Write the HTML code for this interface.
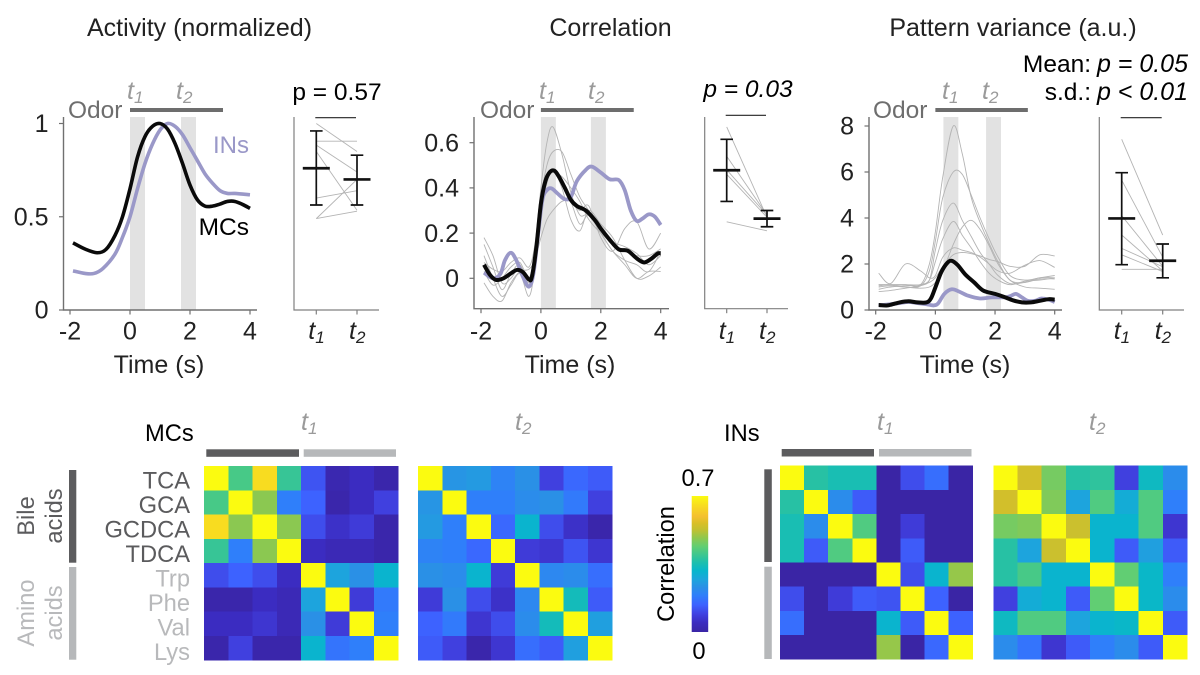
<!DOCTYPE html>
<html lang="en">
<head>
<meta charset="utf-8">
<title>Odor response figure</title>
<style>
html,body{margin:0;padding:0;background:#fff;}
svg{display:block;font-family:"Liberation Sans",sans-serif;}
text{fill:#222;font-size:25px;}
.hl text,.hs{font-size:23.7px;}
.hl text.big{font-size:25px;}
.it{font-style:italic;}
.g{fill:#6e6e6e;font-size:24.5px;}
.tl{fill:#9a9a9a;}
.sub{font-size:17px;}
.dk{fill:#5b5b5d;}
.lt{fill:#b8b9bb;}
.m{text-anchor:middle;}
.e{text-anchor:end;}
</style>
</head>
<body>
<svg id="chart" width="1200" height="675" viewBox="0 0 1200 675" xmlns="http://www.w3.org/2000/svg">
<defs><linearGradient id="cbar-grad" x1="0" y1="1" x2="0" y2="0"></linearGradient></defs>
<g id="layer"></g>
<g>
<text x="199.5" y="36" class="m">Activity (normalized)</text>
<text x="610.5" y="36" class="m">Correlation</text>
<text x="1013" y="36" class="m">Pattern variance (a.u.)</text>
</g>
<g>
<text x="68" y="118" class="g">Odor</text>
<text x="480" y="118" class="g">Odor</text>
<text x="873" y="118" class="g">Odor</text>
<text x="127" y="99" class="tl it">t<tspan class="sub" dy="4">1</tspan></text>
<text x="176" y="99" class="tl it">t<tspan class="sub" dy="4">2</tspan></text>
<text x="539" y="99" class="tl it">t<tspan class="sub" dy="4">1</tspan></text>
<text x="588" y="99" class="tl it">t<tspan class="sub" dy="4">2</tspan></text>
<text x="942" y="99" class="tl it">t<tspan class="sub" dy="4">1</tspan></text>
<text x="982" y="99" class="tl it">t<tspan class="sub" dy="4">2</tspan></text>
<text x="249" y="153" class="e" style="fill:#9a98c8;font-size:24px">INs</text>
<text x="249" y="235" class="e" style="fill:#000;font-size:24.5px">MCs</text>
<text x="337" y="100" class="m" style="fill:#000;font-size:24.5px">p = 0.57</text>
<text x="748" y="97" class="m it" style="fill:#000;font-size:24.5px">p = 0.03</text>
<text x="1091" y="72" class="e" style="fill:#000;font-size:24.5px">Mean:</text>
<text x="1188" y="72" class="e it" style="fill:#000">p = 0.05</text>
<text x="1091" y="100" class="e" style="fill:#000;font-size:24.5px">s.d.:</text>
<text x="1188" y="100" class="e it" style="fill:#000">p &lt; 0.01</text>
<text x="159" y="373" class="m">Time (s)</text>
<text x="570" y="373" class="m">Time (s)</text>
<text x="965" y="373" class="m">Time (s)</text>
</g>
<g class="hl">
<text x="145" y="441" style="fill:#000">MCs</text>
<text x="724" y="441" style="fill:#000">INs</text>
<text x="301" y="430" class="tl it big">t<tspan class="sub" dy="4">1</tspan></text>
<text x="515" y="430" class="tl it big">t<tspan class="sub" dy="4">2</tspan></text>
<text x="877" y="430" class="tl it big">t<tspan class="sub" dy="4">1</tspan></text>
<text x="1089" y="430" class="tl it big">t<tspan class="sub" dy="4">2</tspan></text>
<text transform="translate(34,516) rotate(-90)" class="m dk">Bile</text>
<text transform="translate(62,516) rotate(-90)" class="m dk">acids</text>
<text transform="translate(34,613) rotate(-90)" class="m lt">Amino</text>
<text transform="translate(62,613) rotate(-90)" class="m lt">acids</text>
<text transform="translate(674,564) rotate(-90)" class="m" style="fill:#000">Correlation</text>
<text x="698" y="486" class="m" style="fill:#000">0.7</text>
<text x="699" y="659" class="m" style="fill:#000">0</text>
</g>
</svg>
<script>
// ---------- Activity panel data ----------
const activityMCsTime = [-1.9,-1.5,-1.1,-0.8,-0.5,-0.25,0,0.25,0.5,0.75,1,1.25,1.5,1.75,2,2.25,2.5,2.75,3,3.25,3.5,3.75,4];
const activityMCs = [0.36,0.327,0.307,0.325,0.40,0.50,0.65,0.82,0.93,0.985,1,0.97,0.893,0.786,0.67,0.59,0.557,0.557,0.568,0.582,0.582,0.566,0.545];
const activityINsTime = [-1.9,-1.5,-1.2,-0.9,-0.5,-0.25,0,0.25,0.5,0.75,1,1.25,1.5,1.75,2,2.25,2.5,2.75,3,3.25,3.5,4];
const activityINs = [0.21,0.196,0.196,0.223,0.30,0.39,0.50,0.65,0.786,0.89,0.965,1,0.985,0.94,0.87,0.80,0.73,0.68,0.64,0.625,0.625,0.618];
const activityPairsT1 = [1.0,0.905,0.884,0.85,0.60,0.49,0.49];
const activityPairsT2 = [0.85,0.905,0.74,0.535,0.64,0.53,0.70];
const activityMean = [0.76,0.70];
const activityUpper = [0.96,0.83];
const activityLower = [0.563,0.563];

// ---------- Correlation panel data ----------
const corrMCsTime = [-1.9,-1.7,-1.5,-1.25,-1,-0.8,-0.6,-0.4,-0.3,-0.15,0,0.15,0.3,0.45,0.6,0.8,1,1.2,1.5,1.8,2,2.3,2.6,2.9,3.2,3.45,3.7,3.9,4];
const corrMCs = [0.06,0.015,-0.007,0,0.022,0.037,0.027,-0.005,0.007,0.14,0.33,0.43,0.47,0.476,0.45,0.40,0.347,0.32,0.30,0.258,0.22,0.17,0.128,0.122,0.088,0.07,0.088,0.11,0.11];
const corrINsTime = [-1.9,-1.6,-1.35,-1.2,-1,-0.8,-0.6,-0.4,-0.25,-0.1,0.05,0.2,0.35,0.55,0.8,1,1.2,1.5,1.7,2,2.3,2.6,2.8,3,3.2,3.4,3.6,3.8,4];
const corrINs = [0.025,0,0.02,0.08,0.113,0.074,0.007,-0.037,0.02,0.185,0.347,0.39,0.398,0.376,0.35,0.36,0.43,0.48,0.494,0.468,0.438,0.435,0.39,0.30,0.254,0.265,0.283,0.273,0.236];
const corrTraceTime = [-1.9,-1.6,-1.3,-1,-0.7,-0.4,-0.2,0,0.2,0.4,0.7,1,1.3,1.6,2,2.4,2.8,3.2,3.6,4];
const corrTrace1 = [0.18,0.10,-0.02,0,0.05,0,0.12,0.40,0.60,0.67,0.55,0.38,0.28,0.28,0.20,0.12,0.08,0.06,0.03,0.12];
const corrTrace2 = [0.15,0.05,-0.05,0.02,0.06,-0.02,0.10,0.35,0.50,0.56,0.56,0.46,0.36,0.30,0.22,0.15,0.12,0.10,0.10,0.13];
const corrTrace3 = [0.10,0,-0.08,-0.03,0.02,-0.08,0.05,0.30,0.42,0.48,0.42,0.34,0.24,0.28,0.20,0.12,0.06,0,0.03,0.03];
const corrTrace4 = [-0.02,-0.08,-0.10,-0.02,0.03,0.04,0.08,0.18,0.26,0.30,0.34,0.34,0.30,0.32,0.18,0.12,0.22,0.25,0.13,0.20];
const corrTrace5 = [0.03,-0.03,0,0.05,0.07,0,0.12,0.34,0.44,0.48,0.40,0.26,0.21,0.30,0.24,0.18,0.08,0,0.01,0.05];
const corrTrace6 = [0.07,0.04,0.03,0.07,0.09,0.05,0.15,0.38,0.46,0.47,0.45,0.40,0.34,0.26,0.20,0.16,0.14,0.11,0.06,0.10];
const corrPairsT1 = [0.67,0.54,0.48,0.46,0.25];
const corrPairsT2 = [0.27,0.28,0.28,0.27,0.21];
const corrMean = [0.478,0.264];
const corrUpper = [0.615,0.30];
const corrLower = [0.34,0.228];

// ---------- Pattern variance panel data ----------
const varMCsTime = [-1.9,-1.6,-1.2,-0.9,-0.6,-0.3,-0.15,0,0.2,0.4,0.55,0.75,1,1.3,1.6,2,2.3,2.6,2.9,3.2,3.5,3.8,4];
const varMCs = [0.22,0.2,0.33,0.38,0.33,0.33,0.5,0.98,1.65,2.05,2.14,1.95,1.55,1.2,0.85,0.7,0.57,0.42,0.33,0.33,0.4,0.47,0.45];
const varINsTime = [-1.9,-1.5,-1.2,-0.9,-0.6,-0.3,-0.05,0.1,0.3,0.55,0.8,1.1,1.5,1.9,2.3,2.5,2.7,2.9,3.1,3.35,3.55,3.8,4];
const varINs = [0.2,0.25,0.3,0.35,0.3,0.25,0.2,0.3,0.7,0.9,0.8,0.62,0.5,0.55,0.55,0.6,0.7,0.55,0.4,0.4,0.5,0.45,0.35];
const varTraceTime = [-1.9,-1.5,-1,-0.5,-0.2,0,0.25,0.6,0.9,1.2,1.5,1.8,2.1,2.5,3,3.5,4];
const varTrace1 = [1.1,1.1,1.1,1.1,2.0,3.4,5.8,8.0,6.8,4.9,3.8,2.9,2.1,1.3,1.2,1.35,1.35];
const varTrace2 = [1.0,1.05,1.0,1.05,1.7,3.0,4.9,6.0,5.9,5.0,4.0,3.1,2.3,1.5,1.3,1.4,1.5];
const varTrace3 = [0.9,1.0,1.05,1.1,1.3,2.6,3.9,4.65,3.9,3.2,2.5,2.0,1.5,1.15,1.2,1.4,1.4];
const varTrace4 = [1.1,1.1,1.1,1.1,1.3,2.1,3.1,3.85,3.25,2.7,2.1,1.6,1.3,1.1,1.25,1.3,1.4];
const varTrace5 = [1.05,1.1,1.0,0.95,1.0,1.2,1.7,2.85,3.6,3.9,3.5,2.8,2.0,1.3,1.0,0.95,0.9];
const varTrace6 = [1.6,1.15,2.0,1.7,1.4,1.5,2.3,2.7,2.6,2.5,2.3,2.0,1.7,1.6,1.95,2.15,1.85];
const varTrace7 = [0.8,0.85,0.95,1.05,1.2,1.4,1.9,2.4,2.5,2.45,2.35,2.2,2.1,1.9,1.9,2.4,2.35];
const varPairsT1 = [7.42,5.65,4.1,3.26,2.68,2.4,1.77];
const varPairsT2 = [3.26,2.3,1.9,1.7,1.88,1.67,1.77];
const varMean = [3.98,2.14];
const varUpper = [5.97,2.87];
const varLower = [1.97,1.4];

// ---------- Tick labels ----------
const timeTicks = [-2,0,2,4];
const activityTicks = [0,0.5,1];
const correlationTicks = [0,0.2,0.4,0.6];
const varianceTicks = [0,2,4,6,8];
const sideCategories = ['1','2'];
const odorWindow = [0,3.1];

// ---------- Heatmap data ----------
const odorNames = ['TCA','GCA','GCDCA','TDCA','Trp','Phe','Val','Lys'];
const mcsT1 = [
[0.70,0.41,0.65,0.39,0.12,0.02,0.05,0.01],
[0.41,0.70,0.48,0.19,0.14,0.01,0.05,0.09],
[0.65,0.48,0.70,0.48,0.11,0.06,0.08,0.01],
[0.39,0.19,0.48,0.70,0.05,0.03,0.03,0.01],
[0.11,0.14,0.11,0.05,0.70,0.27,0.23,0.31],
[0.01,0.01,0.05,0.03,0.27,0.70,0.08,0.18],
[0.05,0.05,0.07,0.03,0.23,0.08,0.70,0.19],
[0.01,0.09,0.01,0.01,0.31,0.17,0.19,0.70]];
const mcsT2 = [
[0.70,0.24,0.25,0.20,0.23,0.09,0.15,0.13],
[0.24,0.70,0.19,0.19,0.22,0.23,0.18,0.09],
[0.25,0.19,0.70,0.15,0.31,0.11,0.06,0.01],
[0.20,0.19,0.15,0.70,0.08,0.07,0.12,0.07],
[0.23,0.22,0.31,0.08,0.70,0.21,0.22,0.16],
[0.08,0.23,0.11,0.06,0.21,0.70,0.34,0.13],
[0.14,0.18,0.07,0.11,0.22,0.34,0.70,0.26],
[0.13,0.09,0.01,0.07,0.16,0.13,0.26,0.70]];
const insT1 = [
[0.70,0.37,0.35,0.35,0.00,0.11,0.16,0.00],
[0.37,0.70,0.22,0.13,0.00,0.00,0.00,0.00],
[0.35,0.22,0.70,0.42,0.00,0.08,0.00,0.00],
[0.35,0.13,0.42,0.70,0.00,0.13,0.00,0.00],
[0.00,0.00,0.00,0.00,0.70,0.11,0.31,0.49],
[0.11,0.00,0.08,0.13,0.12,0.70,0.14,0.00],
[0.16,0.00,0.00,0.00,0.31,0.13,0.70,0.14],
[0.00,0.00,0.00,0.00,0.49,0.00,0.15,0.70]];
const insT2 = [
[0.70,0.55,0.46,0.37,0.38,0.09,0.33,0.22],
[0.55,0.70,0.47,0.27,0.42,0.29,0.42,0.19],
[0.46,0.47,0.70,0.54,0.31,0.31,0.42,0.07],
[0.37,0.27,0.54,0.70,0.31,0.13,0.26,0.13],
[0.37,0.41,0.31,0.31,0.70,0.44,0.32,0.19],
[0.09,0.29,0.31,0.13,0.44,0.70,0.32,0.22],
[0.33,0.42,0.42,0.27,0.31,0.32,0.70,0.13],
[0.22,0.17,0.07,0.13,0.19,0.22,0.13,0.70]];
const colorDomainMax = 0.7;
const colorStops = [
[0,'#3a25a5'],[0.07,'#3b2cc0'],[0.13,'#4040e0'],[0.2,'#3d62ff'],[0.27,'#2f7ffa'],[0.33,'#2a90e6'],
[0.39,'#1ca6dc'],[0.45,'#08b6cc'],[0.51,'#1cbfae'],[0.57,'#3ec78f'],[0.63,'#62ce72'],[0.69,'#8ec84f'],
[0.75,'#c0c032'],[0.8,'#d9bf28'],[0.85,'#f4c030'],[0.93,'#f8dc20'],[1,'#fbfb10']];

// ---------- Helpers ----------
const NS = 'http://www.w3.org/2000/svg';
const root = document.getElementById('layer');
function mk(tag, attrs, parent) {
  const n = document.createElementNS(NS, tag);
  for (const k in attrs) n.setAttribute(k, attrs[k]);
  (parent || root).appendChild(n);
  return n;
}
function linear(d0, d1, r0, r1) {
  return function (v) { return r0 + (v - d0) * (r1 - r0) / (d1 - d0); };
}
function smoothPath(xs, ys, sx, sy) {
  const p = xs.map(function (x, i) { return [sx(x), sy(ys[i])]; });
  let d = 'M' + p[0][0].toFixed(2) + ' ' + p[0][1].toFixed(2);
  for (let i = 0; i < p.length - 1; i++) {
    const a = p[Math.max(i - 1, 0)], b = p[i], c = p[i + 1], e = p[Math.min(i + 2, p.length - 1)];
    const c1x = b[0] + (c[0] - a[0]) / 6, c1y = b[1] + (c[1] - a[1]) / 6;
    const c2x = c[0] - (e[0] - b[0]) / 6, c2y = c[1] - (e[1] - b[1]) / 6;
    d += 'C' + c1x.toFixed(2) + ' ' + c1y.toFixed(2) + ' ' + c2x.toFixed(2) + ' ' + c2y.toFixed(2) + ' ' + c[0].toFixed(2) + ' ' + c[1].toFixed(2);
  }
  return d;
}
function cmap(v) {
  const f = Math.max(0, Math.min(1, v / colorDomainMax));
  for (let i = 0; i < colorStops.length - 1; i++) {
    const a = colorStops[i], b = colorStops[i + 1];
    if (f <= b[0]) {
      const w = (f - a[0]) / (b[0] - a[0]);
      const ca = [1, 3, 5].map(function (j) { return parseInt(a[1].substr(j, 2), 16); });
      const cb = [1, 3, 5].map(function (j) { return parseInt(b[1].substr(j, 2), 16); });
      return 'rgb(' + ca.map(function (c, j) { return Math.round(c + (cb[j] - c) * w); }).join(',') + ')';
    }
  }
  return colorStops[colorStops.length - 1][1];
}

function drawTimePanel(cfg) {
  const g = mk('g', {});
  
  
  const sx = linear(-2, 4, cfg.xNeg2, cfg.x4);
  const sy = linear(cfg.yD0, cfg.yD1, cfg.yR0, cfg.yR1);
  cfg.windows.forEach(function (w, i) {
    const r = mk('rect', {x: sx(w[0]), y: cfg.top, width: sx(w[1]) - sx(w[0]), height: cfg.bottom - cfg.top, fill: '#e2e2e2'}, g);
    
    
  });
  const odor = mk('line', {x1: sx(odorWindow[0]), x2: sx(odorWindow[1]), y1: 110, y2: 110, stroke: '#6d6d6d', 'stroke-width': 4}, g);
  
  
  const spine = mk('path', {d: 'M' + cfg.left + ' ' + cfg.top + 'V' + cfg.bottom + 'H' + cfg.right, fill: 'none', stroke: '#707070', 'stroke-width': 1.4}, g);
  
  
  timeTicks.forEach(function (t) {
    const tk = mk('line', {x1: sx(t), x2: sx(t), y1: cfg.bottom, y2: cfg.bottom + 4.5, stroke: '#707070', 'stroke-width': 1.2}, g);
    
    
    const lb = mk('text', {x: sx(t), y: 339.5, 'text-anchor': 'middle'}, g);
    lb.textContent = String(t);
    
    
  });
  cfg.yTicks.forEach(function (v) {
    const tk = mk('line', {x1: cfg.left - 4.5, x2: cfg.left, y1: sy(v), y2: sy(v), stroke: '#707070', 'stroke-width': 1.2}, g);
    
    
    const lb = mk('text', {x: cfg.left - 15, y: sy(v) + 8.7, 'text-anchor': 'end'}, g);
    lb.textContent = String(v);
    
    
  });
  cfg.traces.forEach(function (tr) {
    const l = mk('path', {d: smoothPath(cfg.traceTime, tr, sx, sy), fill: 'none', stroke: '#b4b4b4', 'stroke-width': 0.9}, g);
    
    
  });
  cfg.series.forEach(function (s) {
    const l = mk('path', {d: smoothPath(s.t, s.v, sx, sy), fill: 'none', stroke: s.color, 'stroke-width': s.w, 'stroke-linejoin': 'round'}, g);
    
    
  });

  // side panel comparing t1 and t2
  const h = mk('g', {});
  
  
  const cx = linear(0, 1, cfg.sideT1, cfg.sideT2);
  const sideSpine = mk('path', {d: 'M' + cfg.sideLeft + ' ' + cfg.top + 'V' + cfg.bottom + 'H' + cfg.sideRight, fill: 'none', stroke: '#808080', 'stroke-width': 1.2}, h);
  
  
  sideCategories.forEach(function (c, i) {
    const tk = mk('line', {x1: cx(i), x2: cx(i), y1: cfg.bottom, y2: cfg.bottom + 4.5, stroke: '#808080', 'stroke-width': 1.2}, h);
    
    
    const lb = mk('text', {x: cx(i) - 8, y: 339, 'font-style': 'italic'}, h);
    
    
    const tt = mk('tspan', {}, lb);
    tt.textContent = 't';
    const st = mk('tspan', {dy: 4, style: 'font-size:17px'}, lb);
    st.textContent = c;
  });
  cfg.pairsT1.forEach(function (v, i) {
    const l = mk('line', {x1: cx(0), x2: cx(1), y1: sy(v), y2: sy(cfg.pairsT2[i]), stroke: '#b4b4b4', 'stroke-width': 0.9}, h);
    
    
  });
  const sig = mk('line', {x1: cx(0) - 1, x2: cx(1) - 1, y1: cfg.sigY, y2: cfg.sigY, stroke: '#222', 'stroke-width': 1.1}, h);
  
  
  cfg.mean.forEach(function (m, i) {
    const x = cx(i), up = sy(cfg.upper[i]), lo = sy(cfg.lower[i]), my = sy(m);
    const e = mk('path', {d: 'M' + (x - 6.3) + ' ' + up + 'H' + (x + 6.3) + 'M' + x + ' ' + up + 'V' + lo + 'M' + (x - 6.3) + ' ' + lo + 'H' + (x + 6.3), fill: 'none', stroke: '#111', 'stroke-width': 1.7}, h);
    
    
    const b = mk('line', {x1: x - 13.5, x2: x + 13.5, y1: my, y2: my, stroke: '#111', 'stroke-width': 2.7}, h);
    
    
  });
}

drawTimePanel({
  name: 'activity', xNeg2: 70, x4: 250, left: 63.5, right: 257, top: 117, bottom: 310,
  yD0: 0, yD1: 1, yR0: 310, yR1: 123.5, yTicks: activityTicks, windows: [[0,0.5],[1.7,2.2]],
  traceTime: [], traces: [],
  series: [{id: 'ins', t: activityINsTime, v: activityINs, color: '#9a98c8', w: 3.6},
           {id: 'mcs', t: activityMCsTime, v: activityMCs, color: '#0a0a0a', w: 3.6}],
  sideLeft: 294, sideRight: 379, sideT1: 316.3, sideT2: 357,
  pairsT1: activityPairsT1, pairsT2: activityPairsT2, mean: activityMean, upper: activityUpper, lower: activityLower, sigY: 117.7
});
drawTimePanel({
  name: 'correlation', xNeg2: 481, x4: 660.7, left: 474, right: 669, top: 117, bottom: 308.7,
  yD0: 0, yD1: 0.6, yR0: 278.3, yR1: 142.7, yTicks: correlationTicks, windows: [[0,0.5],[1.67,2.17]],
  traceTime: corrTraceTime, traces: [corrTrace1, corrTrace2, corrTrace3, corrTrace4, corrTrace5, corrTrace6],
  series: [{id: 'ins', t: corrINsTime, v: corrINs, color: '#9a98c8', w: 3.8},
           {id: 'mcs', t: corrMCsTime, v: corrMCs, color: '#0a0a0a', w: 4}],
  sideLeft: 704.7, sideRight: 788, sideT1: 726.7, sideT2: 767,
  pairsT1: corrPairsT1, pairsT2: corrPairsT2, mean: corrMean, upper: corrUpper, lower: corrLower, sigY: 115.3
});
drawTimePanel({
  name: 'variance', xNeg2: 875.7, x4: 1054.7, left: 869, right: 1062, top: 117, bottom: 310,
  yD0: 0, yD1: 8, yR0: 310, yR1: 126, yTicks: varianceTicks, windows: [[0.27,0.77],[1.7,2.2]],
  traceTime: varTraceTime, traces: [varTrace1, varTrace2, varTrace3, varTrace4, varTrace5, varTrace6, varTrace7],
  series: [{id: 'ins', t: varINsTime, v: varINs, color: '#9a98c8', w: 3.8},
           {id: 'mcs', t: varMCsTime, v: varMCs, color: '#0a0a0a', w: 4}],
  sideLeft: 1099.3, sideRight: 1184, sideT1: 1121.7, sideT2: 1162.7,
  pairsT1: varPairsT1, pairsT2: varPairsT2, mean: varMean, upper: varUpper, lower: varLower, sigY: 117.7
});

// ---------- Heatmaps ----------
function drawHeatmap(name, matrix, x0, y0, x1, y1) {
  const g = mk('g', {'shape-rendering': 'crispEdges'});
  
  
  const n = matrix.length;
  const sx = linear(0, n, x0, x1), sy = linear(0, n, y0, y1);
  matrix.forEach(function (row, r) {
    row.forEach(function (v, c) {
      const cell = mk('rect', {x: sx(c), y: sy(r), width: sx(c + 1) - sx(c) + 0.3, height: sy(r + 1) - sy(r) + 0.3, fill: cmap(v)}, g);
      
      
    });
  });
}
drawHeatmap('mcs-t1-heatmap', mcsT1, 204, 466, 398, 660);
drawHeatmap('mcs-t2-heatmap', mcsT2, 418, 466, 612, 660);
drawHeatmap('ins-t1-heatmap', insT1, 780, 465.7, 972.7, 659.3);
drawHeatmap('ins-t2-heatmap', insT2, 993.3, 465.7, 1187, 659.3);

// ---------- Group bars ----------
function bar(name, x, y, w, h, fill) {
  const r = mk('rect', {x: x, y: y, width: w, height: h, fill: fill});
  
  
}
bar('mcs-bile-acid-top-bar', 206.3, 449.3, 92.7, 7.5, '#5c5c5e');
bar('mcs-amino-acid-top-bar', 303.7, 449.3, 92.3, 7.5, '#b6b8ba');
bar('ins-bile-acid-top-bar', 781.7, 449, 92.3, 7.5, '#5c5c5e');
bar('ins-amino-acid-top-bar', 879, 449, 92.5, 7.5, '#b6b8ba');
bar('mcs-bile-acid-side-bar', 69, 470, 7.3, 92.7, '#5c5c5e');
bar('mcs-amino-acid-side-bar', 69, 567, 7.3, 92.7, '#b6b8ba');
bar('ins-bile-acid-side-bar', 764.3, 469.3, 7.5, 92.7, '#5c5c5e');
bar('ins-amino-acid-side-bar', 764.3, 566.7, 7.5, 92.3, '#b6b8ba');

// ---------- Odor labels ----------
const odorScale = linear(0, odorNames.length, 464.5, 660.5);
odorNames.forEach(function (name, i) {
  const t = mk('text', {x: 190, y: odorScale(i + 1) - 0.5, 'text-anchor': 'end', class: (i < 4 ? 'dk' : 'lt') + ' hs'});
  t.textContent = name;
  
  
});

// ---------- Colorbar ----------
const grad = document.getElementById('cbar-grad');
colorStops.forEach(function (s) {
  mk('stop', {offset: s[0], 'stop-color': s[1]}, grad);
});
const cbar = mk('rect', {x: 691.7, y: 496, width: 16.5, height: 136, fill: 'url(#cbar-grad)'});


</script>
</body>
</html>
